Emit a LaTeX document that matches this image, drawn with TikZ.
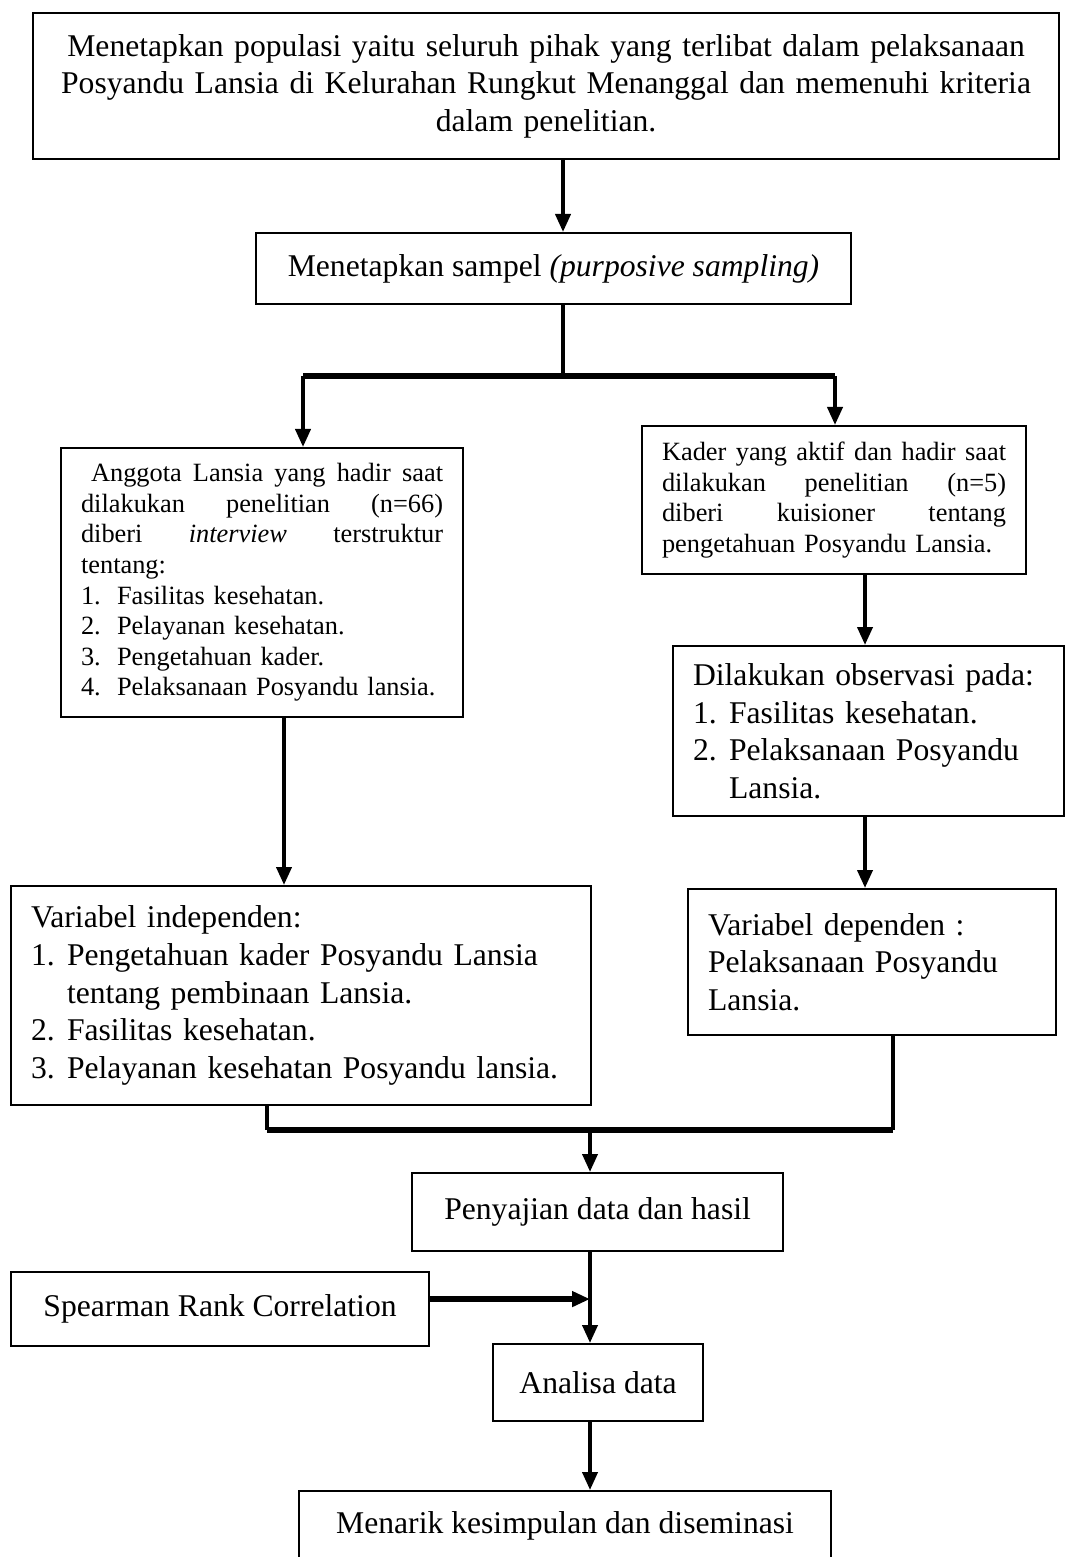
\documentclass[tikz,border=0pt]{standalone}
\usepackage{fontspec}
\setmainfont{Liberation Serif}
\usetikzlibrary{arrows.meta, positioning}

\newcommand\jl[2]{{\spaceskip=0pt\xspaceskip=0pt\makebox[#1][s]{#2}}}
\newcommand\nr[1]{\makebox[0.72cm][l]{#1}}

\begin{document}
\begin{tikzpicture}[
	x=0.2mm, y=-0.2mm,
	box/.style = {draw, line width=1.2pt, anchor=north west, inner sep=0pt, inner xsep=4mm},
	big/.style = {font=\fontsize{18}{21.4}\selectfont},
	small/.style = {font=\fontsize{15}{17.4}\selectfont},
	ln/.style = {line width=2.2pt},
	joinln/.style = {line width=3.2pt},
	arr/.style = {ln, -{Triangle[length=3.6mm, width=3mm]}}
	]
	\useasboundingbox (0,0) rectangle (1066,1557);
%
	\node[box, big, minimum width=20.52cm, minimum height=2.92cm, text width=19.72cm, align=center] (top) at (32,12)
	{Menetapkan populasi yaitu seluruh pihak yang terlibat dalam pelaksanaan\\
	 Posyandu Lansia di Kelurahan Rungkut Menanggal dan memenuhi kriteria\\
	 dalam penelitian.};
	\node[box, big, minimum width=11.9cm, minimum height=1.42cm] (sampel) at (255,232)
	{Menetapkan sampel \textit{(purposive sampling)}};
%
	\node[box, small, minimum width=8.04cm, minimum height=5.38cm, text width=7.24cm, align=left] (anggota) at (60,447)
	{\hspace*{2mm}\jl{7.04cm}{Anggota Lansia yang hadir saat}\\
	 \jl{7.24cm}{dilakukan penelitian (n=66)}\\
	 \jl{7.24cm}{diberi \textit{interview} terstruktur}\\
	 tentang:\\
	 \nr{1.}Fasilitas kesehatan.\\
	 \nr{2.}Pelayanan kesehatan.\\
	 \nr{3.}Pengetahuan kader.\\
	 \nr{4.}Pelaksanaan Posyandu lansia.};
	\node[box, small, minimum width=7.68cm, minimum height=2.96cm, text width=6.88cm, align=left] (kader) at (641,425)
	{\jl{6.88cm}{Kader yang aktif dan hadir saat}\\
	 \jl{6.88cm}{dilakukan penelitian (n=5)}\\
	 \jl{6.88cm}{diberi kuisioner tentang}\\
	 pengetahuan Posyandu Lansia.};
	\node[box, big, minimum width=7.82cm, minimum height=3.4cm, text width=7.02cm, align=left] (obs) at (672,645)
	{Dilakukan observasi pada:\\
	 \nr{1.}Fasilitas kesehatan.\\
	 \nr{2.}Pelaksanaan Posyandu\\
	 \nr{}Lansia.};
%
	\node[box, big, minimum width=11.6cm, minimum height=4.38cm, text width=10.8cm, align=left] (indep) at (10,885)
	{Variabel independen:\\
	 \nr{1.}Pengetahuan kader Posyandu Lansia\\
	 \nr{}tentang pembinaan Lansia.\\
	 \nr{2.}Fasilitas kesehatan.\\
	 \nr{3.}Pelayanan kesehatan Posyandu lansia.};
	\node[box, big, minimum width=7.36cm, minimum height=2.92cm, text width=6.56cm, align=left] (dep) at (687,888)
	{Variabel dependen :\\
	 Pelaksanaan Posyandu\\
	 Lansia.};
%
	\node[box, big, minimum width=7.42cm, minimum height=1.56cm] (sajian) at (411,1172) {Penyajian data dan hasil};
	\node[box, big, minimum width=8.36cm, minimum height=1.48cm] (spearman) at (10,1271) {Spearman Rank Correlation};
	\node[box, big, minimum width=4.2cm, minimum height=1.54cm] (analisa) at (492,1343) {Analisa data};
	\node[box, big, minimum width=10.64cm, minimum height=1.4cm] (menarik) at (298,1490) {Menarik kesimpulan dan diseminasi};
%
	\coordinate (c1) at (563,376);
	\coordinate (sl) at (303,376);
	\coordinate (sr) at (835,376);
	\coordinate (ax) at (284,0);
	\coordinate (kx) at (865,0);
	\coordinate (jl) at (267,1130);
	\coordinate (jr) at (893,1130);
	\coordinate (jm) at (590,1130);
%
	\draw[arr] (top.south -| c1) -- (sampel.north -| c1);
	\draw[ln] (sampel.south -| c1) -- (c1);
	\draw[joinln] (sl) -- (sr);
	\draw[arr] (sl) -- (anggota.north -| sl);
	\draw[arr] (sr) -- (kader.north -| sr);
	\draw[arr] (kader.south -| kx) -- (obs.north -| kx);
	\draw[arr] (obs.south -| kx) -- (dep.north -| kx);
	\draw[arr] (anggota.south -| ax) -- (indep.north -| ax);
%
	\draw[ln] (indep.south -| jl) -- (jl);
	\draw[ln] (dep.south -| jr) -- (jr);
	\draw[joinln] (jl) -- (jr);
	\draw[arr] (jm) -- (sajian.north -| jm);
	\draw[arr] (sajian.south -| jm) -- (analisa.north -| jm);
	\draw[joinln, -{Triangle[length=3.6mm, width=3mm]}] ([yshift=2mm]spearman.east) -- ([yshift=2mm]spearman.east -| jm);
	\draw[arr] (analisa.south -| jm) -- (menarik.north -| jm);
\end{tikzpicture}
\end{document}
